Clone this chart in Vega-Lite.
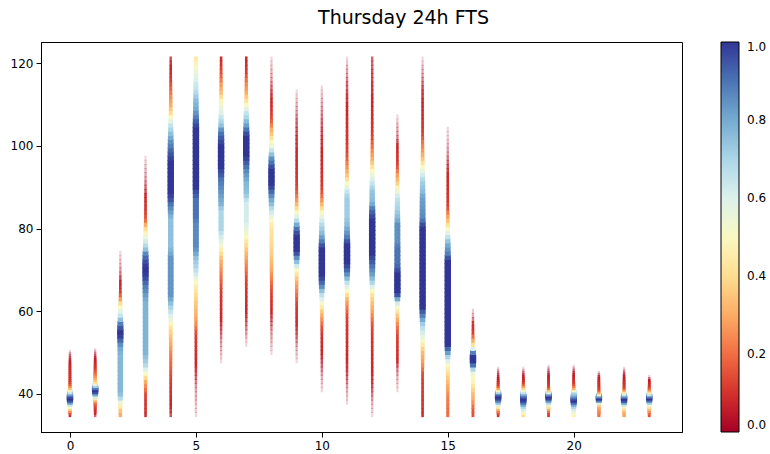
{
"$schema": "https://vega.github.io/schema/vega-lite/v6.json",
"width": 641,
"height": 390,
"autosize": {"type": "none"},
"padding": {"left": 41, "top": 42, "right": 88, "bottom": 22},
"background": "white",
"title": {"text": "Thursday 24h FTS", "font": "DejaVu Sans", "fontSize": 19, "fontWeight": "normal", "color": "black", "anchor": "middle", "frame": "group", "dx": 42, "offset": 14},
"config": {
 "view": {"stroke": "black", "strokeWidth": 1},
 "axis": {"domainColor": "black", "tickColor": "black", "labelColor": "black", "labelFont": "DejaVu Sans", "labelFontSize": 12, "tickSize": 5, "labelPadding": 3, "grid": false, "title": null},
 "legend": {"labelFont": "DejaVu Sans", "labelFontSize": 12, "labelColor": "black"}
},
"data": {"values": [
{"h":0,"y":35,"m":0.08},{"h":0,"y":35.5,"m":0.15},{"h":0,"y":36,"m":0.25},{"h":0,"y":36.5,"m":0.38},{"h":0,"y":37,"m":0.5},{"h":0,"y":37.5,"m":0.65},{"h":0,"y":38,"m":0.82},{"h":0,"y":38.5,"m":0.95},{"h":0,"y":39,"m":1},{"h":0,"y":39.5,"m":0.95},{"h":0,"y":40,"m":0.82},{"h":0,"y":40.5,"m":0.65},{"h":0,"y":41,"m":0.48},{"h":0,"y":41.5,"m":0.35},{"h":0,"y":42,"m":0.25},{"h":0,"y":42.5,"m":0.17},{"h":0,"y":43,"m":0.13},{"h":0,"y":43.5,"m":0.11},{"h":0,"y":44,"m":0.1},{"h":0,"y":44.5,"m":0.1},{"h":0,"y":45,"m":0.1},{"h":0,"y":45.5,"m":0.09},{"h":0,"y":46,"m":0.09},{"h":0,"y":46.5,"m":0.08},{"h":0,"y":47,"m":0.08},{"h":0,"y":47.5,"m":0.07},{"h":0,"y":48,"m":0.06},{"h":0,"y":48.5,"m":0.04},{"h":0,"y":49,"m":0.03},{"h":0,"y":49.5,"m":0.02},{"h":0,"y":50,"m":0.01},
{"h":1,"y":35,"m":0.05},{"h":1,"y":35.5,"m":0.07},{"h":1,"y":36,"m":0.09},{"h":1,"y":36.5,"m":0.1},{"h":1,"y":37,"m":0.12},{"h":1,"y":37.5,"m":0.15},{"h":1,"y":38,"m":0.2},{"h":1,"y":38.5,"m":0.3},{"h":1,"y":39,"m":0.45},{"h":1,"y":39.5,"m":0.62},{"h":1,"y":40,"m":0.8},{"h":1,"y":40.5,"m":0.95},{"h":1,"y":41,"m":1},{"h":1,"y":41.5,"m":0.9},{"h":1,"y":42,"m":0.72},{"h":1,"y":42.5,"m":0.55},{"h":1,"y":43,"m":0.42},{"h":1,"y":43.5,"m":0.35},{"h":1,"y":44,"m":0.3},{"h":1,"y":44.5,"m":0.26},{"h":1,"y":45,"m":0.22},{"h":1,"y":45.5,"m":0.18},{"h":1,"y":46,"m":0.15},{"h":1,"y":46.5,"m":0.12},{"h":1,"y":47,"m":0.1},{"h":1,"y":47.5,"m":0.09},{"h":1,"y":48,"m":0.08},{"h":1,"y":48.5,"m":0.06},{"h":1,"y":49,"m":0.04},{"h":1,"y":49.5,"m":0.025},{"h":1,"y":50,"m":0.015},{"h":1,"y":50.5,"m":0.005},
{"h":2,"y":35,"m":0.3},{"h":2,"y":36,"m":0.35},{"h":2,"y":37,"m":0.45},{"h":2,"y":38,"m":0.55},{"h":2,"y":39,"m":0.68},{"h":2,"y":40,"m":0.75},{"h":2,"y":41,"m":0.77},{"h":2,"y":42,"m":0.77},{"h":2,"y":43,"m":0.77},{"h":2,"y":44,"m":0.77},{"h":2,"y":45,"m":0.77},{"h":2,"y":46,"m":0.77},{"h":2,"y":47,"m":0.77},{"h":2,"y":48,"m":0.77},{"h":2,"y":49,"m":0.77},{"h":2,"y":50,"m":0.78},{"h":2,"y":51,"m":0.8},{"h":2,"y":52,"m":0.85},{"h":2,"y":53,"m":0.92},{"h":2,"y":54,"m":0.98},{"h":2,"y":55,"m":1},{"h":2,"y":56,"m":0.95},{"h":2,"y":57,"m":0.88},{"h":2,"y":58,"m":0.75},{"h":2,"y":59,"m":0.65},{"h":2,"y":60,"m":0.58},{"h":2,"y":61,"m":0.5},{"h":2,"y":62,"m":0.4},{"h":2,"y":63,"m":0.28},{"h":2,"y":64,"m":0.18},{"h":2,"y":65,"m":0.12},{"h":2,"y":66,"m":0.1},{"h":2,"y":67,"m":0.08},{"h":2,"y":68,"m":0.06},{"h":2,"y":69,"m":0.04},{"h":2,"y":70,"m":0.03},{"h":2,"y":71,"m":0.02},{"h":2,"y":72,"m":0.015},{"h":2,"y":73,"m":0.01},{"h":2,"y":74,"m":0.005},
{"h":3,"y":35,"m":0.08},{"h":3,"y":36,"m":0.1},{"h":3,"y":37,"m":0.1},{"h":3,"y":38,"m":0.1},{"h":3,"y":39,"m":0.12},{"h":3,"y":40,"m":0.13},{"h":3,"y":41,"m":0.2},{"h":3,"y":42,"m":0.25},{"h":3,"y":43,"m":0.3},{"h":3,"y":44,"m":0.4},{"h":3,"y":45,"m":0.5},{"h":3,"y":46,"m":0.6},{"h":3,"y":47,"m":0.68},{"h":3,"y":48,"m":0.72},{"h":3,"y":49,"m":0.75},{"h":3,"y":50,"m":0.78},{"h":3,"y":51,"m":0.78},{"h":3,"y":52,"m":0.78},{"h":3,"y":53,"m":0.78},{"h":3,"y":54,"m":0.78},{"h":3,"y":55,"m":0.78},{"h":3,"y":56,"m":0.78},{"h":3,"y":57,"m":0.78},{"h":3,"y":58,"m":0.78},{"h":3,"y":59,"m":0.78},{"h":3,"y":60,"m":0.78},{"h":3,"y":61,"m":0.78},{"h":3,"y":62,"m":0.78},{"h":3,"y":63,"m":0.8},{"h":3,"y":64,"m":0.83},{"h":3,"y":65,"m":0.86},{"h":3,"y":66,"m":0.88},{"h":3,"y":67,"m":0.92},{"h":3,"y":68,"m":0.96},{"h":3,"y":69,"m":0.99},{"h":3,"y":70,"m":1},{"h":3,"y":71,"m":0.99},{"h":3,"y":72,"m":0.96},{"h":3,"y":73,"m":0.92},{"h":3,"y":74,"m":0.86},{"h":3,"y":75,"m":0.75},{"h":3,"y":76,"m":0.68},{"h":3,"y":77,"m":0.62},{"h":3,"y":78,"m":0.55},{"h":3,"y":79,"m":0.48},{"h":3,"y":80,"m":0.4},{"h":3,"y":81,"m":0.3},{"h":3,"y":82,"m":0.2},{"h":3,"y":83,"m":0.15},{"h":3,"y":84,"m":0.12},{"h":3,"y":85,"m":0.1},{"h":3,"y":86,"m":0.1},{"h":3,"y":87,"m":0.09},{"h":3,"y":88,"m":0.08},{"h":3,"y":89,"m":0.06},{"h":3,"y":90,"m":0.05},{"h":3,"y":91,"m":0.04},{"h":3,"y":92,"m":0.03},{"h":3,"y":93,"m":0.025},{"h":3,"y":94,"m":0.02},{"h":3,"y":95,"m":0.015},{"h":3,"y":96,"m":0.01},{"h":3,"y":97,"m":0.005},
{"h":4,"y":35,"m":0.06},{"h":4,"y":36,"m":0.07},{"h":4,"y":37,"m":0.08},{"h":4,"y":38,"m":0.08},{"h":4,"y":39,"m":0.09},{"h":4,"y":40,"m":0.1},{"h":4,"y":41,"m":0.1},{"h":4,"y":42,"m":0.11},{"h":4,"y":43,"m":0.12},{"h":4,"y":44,"m":0.13},{"h":4,"y":45,"m":0.15},{"h":4,"y":46,"m":0.17},{"h":4,"y":47,"m":0.19},{"h":4,"y":48,"m":0.2},{"h":4,"y":49,"m":0.22},{"h":4,"y":50,"m":0.24},{"h":4,"y":51,"m":0.27},{"h":4,"y":52,"m":0.3},{"h":4,"y":53,"m":0.32},{"h":4,"y":54,"m":0.35},{"h":4,"y":55,"m":0.38},{"h":4,"y":56,"m":0.42},{"h":4,"y":57,"m":0.48},{"h":4,"y":58,"m":0.55},{"h":4,"y":59,"m":0.6},{"h":4,"y":60,"m":0.65},{"h":4,"y":61,"m":0.7},{"h":4,"y":62,"m":0.75},{"h":4,"y":63,"m":0.8},{"h":4,"y":64,"m":0.84},{"h":4,"y":65,"m":0.84},{"h":4,"y":66,"m":0.84},{"h":4,"y":67,"m":0.84},{"h":4,"y":68,"m":0.84},{"h":4,"y":69,"m":0.84},{"h":4,"y":70,"m":0.84},{"h":4,"y":71,"m":0.84},{"h":4,"y":72,"m":0.84},{"h":4,"y":73,"m":0.84},{"h":4,"y":74,"m":0.8},{"h":4,"y":75,"m":0.77},{"h":4,"y":76,"m":0.75},{"h":4,"y":77,"m":0.75},{"h":4,"y":78,"m":0.75},{"h":4,"y":79,"m":0.75},{"h":4,"y":80,"m":0.75},{"h":4,"y":81,"m":0.75},{"h":4,"y":82,"m":0.75},{"h":4,"y":83,"m":0.78},{"h":4,"y":84,"m":0.82},{"h":4,"y":85,"m":0.86},{"h":4,"y":86,"m":0.9},{"h":4,"y":87,"m":0.95},{"h":4,"y":88,"m":0.98},{"h":4,"y":89,"m":1},{"h":4,"y":90,"m":1},{"h":4,"y":91,"m":1},{"h":4,"y":92,"m":1},{"h":4,"y":93,"m":1},{"h":4,"y":94,"m":1},{"h":4,"y":95,"m":1},{"h":4,"y":96,"m":1},{"h":4,"y":97,"m":0.98},{"h":4,"y":98,"m":0.95},{"h":4,"y":99,"m":0.92},{"h":4,"y":100,"m":0.88},{"h":4,"y":101,"m":0.85},{"h":4,"y":102,"m":0.8},{"h":4,"y":103,"m":0.75},{"h":4,"y":104,"m":0.7},{"h":4,"y":105,"m":0.65},{"h":4,"y":106,"m":0.58},{"h":4,"y":107,"m":0.5},{"h":4,"y":108,"m":0.4},{"h":4,"y":109,"m":0.35},{"h":4,"y":110,"m":0.3},{"h":4,"y":111,"m":0.28},{"h":4,"y":112,"m":0.25},{"h":4,"y":113,"m":0.22},{"h":4,"y":114,"m":0.18},{"h":4,"y":115,"m":0.15},{"h":4,"y":116,"m":0.12},{"h":4,"y":117,"m":0.1},{"h":4,"y":118,"m":0.09},{"h":4,"y":119,"m":0.08},{"h":4,"y":120,"m":0.07},{"h":4,"y":121,"m":0.06},
{"h":5,"y":35,"m":0.005},{"h":5,"y":36,"m":0.01},{"h":5,"y":37,"m":0.01},{"h":5,"y":38,"m":0.015},{"h":5,"y":39,"m":0.02},{"h":5,"y":40,"m":0.02},{"h":5,"y":41,"m":0.025},{"h":5,"y":42,"m":0.03},{"h":5,"y":43,"m":0.04},{"h":5,"y":44,"m":0.05},{"h":5,"y":45,"m":0.06},{"h":5,"y":46,"m":0.07},{"h":5,"y":47,"m":0.08},{"h":5,"y":48,"m":0.08},{"h":5,"y":49,"m":0.09},{"h":5,"y":50,"m":0.09},{"h":5,"y":51,"m":0.1},{"h":5,"y":52,"m":0.1},{"h":5,"y":53,"m":0.11},{"h":5,"y":54,"m":0.12},{"h":5,"y":55,"m":0.15},{"h":5,"y":56,"m":0.2},{"h":5,"y":57,"m":0.25},{"h":5,"y":58,"m":0.28},{"h":5,"y":59,"m":0.3},{"h":5,"y":60,"m":0.32},{"h":5,"y":61,"m":0.34},{"h":5,"y":62,"m":0.36},{"h":5,"y":63,"m":0.38},{"h":5,"y":64,"m":0.4},{"h":5,"y":65,"m":0.43},{"h":5,"y":66,"m":0.46},{"h":5,"y":67,"m":0.5},{"h":5,"y":68,"m":0.56},{"h":5,"y":69,"m":0.62},{"h":5,"y":70,"m":0.66},{"h":5,"y":71,"m":0.7},{"h":5,"y":72,"m":0.72},{"h":5,"y":73,"m":0.75},{"h":5,"y":74,"m":0.8},{"h":5,"y":75,"m":0.84},{"h":5,"y":76,"m":0.86},{"h":5,"y":77,"m":0.86},{"h":5,"y":78,"m":0.86},{"h":5,"y":79,"m":0.86},{"h":5,"y":80,"m":0.86},{"h":5,"y":81,"m":0.86},{"h":5,"y":82,"m":0.88},{"h":5,"y":83,"m":0.9},{"h":5,"y":84,"m":0.9},{"h":5,"y":85,"m":0.9},{"h":5,"y":86,"m":0.9},{"h":5,"y":87,"m":0.9},{"h":5,"y":88,"m":0.93},{"h":5,"y":89,"m":0.96},{"h":5,"y":90,"m":1},{"h":5,"y":91,"m":1},{"h":5,"y":92,"m":1},{"h":5,"y":93,"m":1},{"h":5,"y":94,"m":1},{"h":5,"y":95,"m":1},{"h":5,"y":96,"m":1},{"h":5,"y":97,"m":1},{"h":5,"y":98,"m":1},{"h":5,"y":99,"m":1},{"h":5,"y":100,"m":1},{"h":5,"y":101,"m":1},{"h":5,"y":102,"m":1},{"h":5,"y":103,"m":1},{"h":5,"y":104,"m":1},{"h":5,"y":105,"m":0.97},{"h":5,"y":106,"m":0.93},{"h":5,"y":107,"m":0.88},{"h":5,"y":108,"m":0.84},{"h":5,"y":109,"m":0.8},{"h":5,"y":110,"m":0.78},{"h":5,"y":111,"m":0.76},{"h":5,"y":112,"m":0.72},{"h":5,"y":113,"m":0.68},{"h":5,"y":114,"m":0.65},{"h":5,"y":115,"m":0.63},{"h":5,"y":116,"m":0.6},{"h":5,"y":117,"m":0.58},{"h":5,"y":118,"m":0.55},{"h":5,"y":119,"m":0.52},{"h":5,"y":120,"m":0.48},{"h":5,"y":121,"m":0.45},
{"h":6,"y":48,"m":0.005},{"h":6,"y":49,"m":0.01},{"h":6,"y":50,"m":0.015},{"h":6,"y":51,"m":0.02},{"h":6,"y":52,"m":0.025},{"h":6,"y":53,"m":0.03},{"h":6,"y":54,"m":0.04},{"h":6,"y":55,"m":0.05},{"h":6,"y":56,"m":0.06},{"h":6,"y":57,"m":0.07},{"h":6,"y":58,"m":0.08},{"h":6,"y":59,"m":0.08},{"h":6,"y":60,"m":0.09},{"h":6,"y":61,"m":0.09},{"h":6,"y":62,"m":0.1},{"h":6,"y":63,"m":0.1},{"h":6,"y":64,"m":0.11},{"h":6,"y":65,"m":0.12},{"h":6,"y":66,"m":0.14},{"h":6,"y":67,"m":0.17},{"h":6,"y":68,"m":0.19},{"h":6,"y":69,"m":0.22},{"h":6,"y":70,"m":0.25},{"h":6,"y":71,"m":0.28},{"h":6,"y":72,"m":0.3},{"h":6,"y":73,"m":0.35},{"h":6,"y":74,"m":0.4},{"h":6,"y":75,"m":0.47},{"h":6,"y":76,"m":0.53},{"h":6,"y":77,"m":0.58},{"h":6,"y":78,"m":0.62},{"h":6,"y":79,"m":0.66},{"h":6,"y":80,"m":0.7},{"h":6,"y":81,"m":0.7},{"h":6,"y":82,"m":0.7},{"h":6,"y":83,"m":0.7},{"h":6,"y":84,"m":0.7},{"h":6,"y":85,"m":0.73},{"h":6,"y":86,"m":0.78},{"h":6,"y":87,"m":0.8},{"h":6,"y":88,"m":0.82},{"h":6,"y":89,"m":0.84},{"h":6,"y":90,"m":0.86},{"h":6,"y":91,"m":0.88},{"h":6,"y":92,"m":0.9},{"h":6,"y":93,"m":0.94},{"h":6,"y":94,"m":0.97},{"h":6,"y":95,"m":1},{"h":6,"y":96,"m":1},{"h":6,"y":97,"m":1},{"h":6,"y":98,"m":1},{"h":6,"y":99,"m":1},{"h":6,"y":100,"m":1},{"h":6,"y":101,"m":0.97},{"h":6,"y":102,"m":0.94},{"h":6,"y":103,"m":0.9},{"h":6,"y":104,"m":0.84},{"h":6,"y":105,"m":0.75},{"h":6,"y":106,"m":0.7},{"h":6,"y":107,"m":0.65},{"h":6,"y":108,"m":0.6},{"h":6,"y":109,"m":0.57},{"h":6,"y":110,"m":0.52},{"h":6,"y":111,"m":0.48},{"h":6,"y":112,"m":0.4},{"h":6,"y":113,"m":0.34},{"h":6,"y":114,"m":0.3},{"h":6,"y":115,"m":0.27},{"h":6,"y":116,"m":0.22},{"h":6,"y":117,"m":0.18},{"h":6,"y":118,"m":0.15},{"h":6,"y":119,"m":0.12},{"h":6,"y":120,"m":0.1},{"h":6,"y":121,"m":0.09},
{"h":7,"y":52,"m":0.005},{"h":7,"y":53,"m":0.01},{"h":7,"y":54,"m":0.02},{"h":7,"y":55,"m":0.03},{"h":7,"y":56,"m":0.04},{"h":7,"y":57,"m":0.05},{"h":7,"y":58,"m":0.06},{"h":7,"y":59,"m":0.07},{"h":7,"y":60,"m":0.08},{"h":7,"y":61,"m":0.08},{"h":7,"y":62,"m":0.09},{"h":7,"y":63,"m":0.09},{"h":7,"y":64,"m":0.1},{"h":7,"y":65,"m":0.1},{"h":7,"y":66,"m":0.11},{"h":7,"y":67,"m":0.12},{"h":7,"y":68,"m":0.14},{"h":7,"y":69,"m":0.17},{"h":7,"y":70,"m":0.2},{"h":7,"y":71,"m":0.23},{"h":7,"y":72,"m":0.26},{"h":7,"y":73,"m":0.29},{"h":7,"y":74,"m":0.32},{"h":7,"y":75,"m":0.36},{"h":7,"y":76,"m":0.4},{"h":7,"y":77,"m":0.44},{"h":7,"y":78,"m":0.5},{"h":7,"y":79,"m":0.54},{"h":7,"y":80,"m":0.57},{"h":7,"y":81,"m":0.6},{"h":7,"y":82,"m":0.62},{"h":7,"y":83,"m":0.62},{"h":7,"y":84,"m":0.62},{"h":7,"y":85,"m":0.62},{"h":7,"y":86,"m":0.62},{"h":7,"y":87,"m":0.66},{"h":7,"y":88,"m":0.72},{"h":7,"y":89,"m":0.75},{"h":7,"y":90,"m":0.76},{"h":7,"y":91,"m":0.77},{"h":7,"y":92,"m":0.8},{"h":7,"y":93,"m":0.83},{"h":7,"y":94,"m":0.86},{"h":7,"y":95,"m":0.9},{"h":7,"y":96,"m":0.94},{"h":7,"y":97,"m":0.98},{"h":7,"y":98,"m":1},{"h":7,"y":99,"m":1},{"h":7,"y":100,"m":1},{"h":7,"y":101,"m":1},{"h":7,"y":102,"m":1},{"h":7,"y":103,"m":0.96},{"h":7,"y":104,"m":0.9},{"h":7,"y":105,"m":0.82},{"h":7,"y":106,"m":0.76},{"h":7,"y":107,"m":0.7},{"h":7,"y":108,"m":0.65},{"h":7,"y":109,"m":0.58},{"h":7,"y":110,"m":0.5},{"h":7,"y":111,"m":0.42},{"h":7,"y":112,"m":0.36},{"h":7,"y":113,"m":0.3},{"h":7,"y":114,"m":0.27},{"h":7,"y":115,"m":0.24},{"h":7,"y":116,"m":0.2},{"h":7,"y":117,"m":0.16},{"h":7,"y":118,"m":0.12},{"h":7,"y":119,"m":0.1},{"h":7,"y":120,"m":0.09},{"h":7,"y":121,"m":0.08},
{"h":8,"y":50,"m":0.005},{"h":8,"y":51,"m":0.01},{"h":8,"y":52,"m":0.015},{"h":8,"y":53,"m":0.02},{"h":8,"y":54,"m":0.025},{"h":8,"y":55,"m":0.03},{"h":8,"y":56,"m":0.04},{"h":8,"y":57,"m":0.05},{"h":8,"y":58,"m":0.06},{"h":8,"y":59,"m":0.07},{"h":8,"y":60,"m":0.08},{"h":8,"y":61,"m":0.09},{"h":8,"y":62,"m":0.1},{"h":8,"y":63,"m":0.11},{"h":8,"y":64,"m":0.12},{"h":8,"y":65,"m":0.14},{"h":8,"y":66,"m":0.17},{"h":8,"y":67,"m":0.2},{"h":8,"y":68,"m":0.23},{"h":8,"y":69,"m":0.26},{"h":8,"y":70,"m":0.29},{"h":8,"y":71,"m":0.31},{"h":8,"y":72,"m":0.33},{"h":8,"y":73,"m":0.35},{"h":8,"y":74,"m":0.37},{"h":8,"y":75,"m":0.38},{"h":8,"y":76,"m":0.39},{"h":8,"y":77,"m":0.4},{"h":8,"y":78,"m":0.41},{"h":8,"y":79,"m":0.42},{"h":8,"y":80,"m":0.43},{"h":8,"y":81,"m":0.46},{"h":8,"y":82,"m":0.5},{"h":8,"y":83,"m":0.56},{"h":8,"y":84,"m":0.62},{"h":8,"y":85,"m":0.68},{"h":8,"y":86,"m":0.75},{"h":8,"y":87,"m":0.8},{"h":8,"y":88,"m":0.86},{"h":8,"y":89,"m":0.92},{"h":8,"y":90,"m":0.97},{"h":8,"y":91,"m":1},{"h":8,"y":92,"m":1},{"h":8,"y":93,"m":1},{"h":8,"y":94,"m":1},{"h":8,"y":95,"m":0.96},{"h":8,"y":96,"m":0.9},{"h":8,"y":97,"m":0.85},{"h":8,"y":98,"m":0.75},{"h":8,"y":99,"m":0.65},{"h":8,"y":100,"m":0.55},{"h":8,"y":101,"m":0.5},{"h":8,"y":102,"m":0.42},{"h":8,"y":103,"m":0.35},{"h":8,"y":104,"m":0.3},{"h":8,"y":105,"m":0.24},{"h":8,"y":106,"m":0.18},{"h":8,"y":107,"m":0.14},{"h":8,"y":108,"m":0.12},{"h":8,"y":109,"m":0.1},{"h":8,"y":110,"m":0.09},{"h":8,"y":111,"m":0.08},{"h":8,"y":112,"m":0.07},{"h":8,"y":113,"m":0.06},{"h":8,"y":114,"m":0.05},{"h":8,"y":115,"m":0.04},{"h":8,"y":116,"m":0.03},{"h":8,"y":117,"m":0.025},{"h":8,"y":118,"m":0.02},{"h":8,"y":119,"m":0.015},{"h":8,"y":120,"m":0.01},{"h":8,"y":121,"m":0.005},
{"h":9,"y":48,"m":0.005},{"h":9,"y":49,"m":0.01},{"h":9,"y":50,"m":0.015},{"h":9,"y":51,"m":0.02},{"h":9,"y":52,"m":0.03},{"h":9,"y":53,"m":0.04},{"h":9,"y":54,"m":0.05},{"h":9,"y":55,"m":0.06},{"h":9,"y":56,"m":0.07},{"h":9,"y":57,"m":0.08},{"h":9,"y":58,"m":0.09},{"h":9,"y":59,"m":0.1},{"h":9,"y":60,"m":0.1},{"h":9,"y":61,"m":0.11},{"h":9,"y":62,"m":0.13},{"h":9,"y":63,"m":0.16},{"h":9,"y":64,"m":0.2},{"h":9,"y":65,"m":0.23},{"h":9,"y":66,"m":0.27},{"h":9,"y":67,"m":0.3},{"h":9,"y":68,"m":0.36},{"h":9,"y":69,"m":0.43},{"h":9,"y":70,"m":0.5},{"h":9,"y":71,"m":0.62},{"h":9,"y":72,"m":0.75},{"h":9,"y":73,"m":0.85},{"h":9,"y":74,"m":0.95},{"h":9,"y":75,"m":1},{"h":9,"y":76,"m":1},{"h":9,"y":77,"m":1},{"h":9,"y":78,"m":1},{"h":9,"y":79,"m":0.96},{"h":9,"y":80,"m":0.9},{"h":9,"y":81,"m":0.8},{"h":9,"y":82,"m":0.68},{"h":9,"y":83,"m":0.58},{"h":9,"y":84,"m":0.5},{"h":9,"y":85,"m":0.4},{"h":9,"y":86,"m":0.32},{"h":9,"y":87,"m":0.27},{"h":9,"y":88,"m":0.22},{"h":9,"y":89,"m":0.17},{"h":9,"y":90,"m":0.14},{"h":9,"y":91,"m":0.12},{"h":9,"y":92,"m":0.11},{"h":9,"y":93,"m":0.1},{"h":9,"y":94,"m":0.1},{"h":9,"y":95,"m":0.09},{"h":9,"y":96,"m":0.09},{"h":9,"y":97,"m":0.08},{"h":9,"y":98,"m":0.08},{"h":9,"y":99,"m":0.08},{"h":9,"y":100,"m":0.07},{"h":9,"y":101,"m":0.07},{"h":9,"y":102,"m":0.07},{"h":9,"y":103,"m":0.06},{"h":9,"y":104,"m":0.06},{"h":9,"y":105,"m":0.05},{"h":9,"y":106,"m":0.05},{"h":9,"y":107,"m":0.04},{"h":9,"y":108,"m":0.03},{"h":9,"y":109,"m":0.025},{"h":9,"y":110,"m":0.02},{"h":9,"y":111,"m":0.015},{"h":9,"y":112,"m":0.01},{"h":9,"y":113,"m":0.005},
{"h":10,"y":41,"m":0.005},{"h":10,"y":42,"m":0.01},{"h":10,"y":43,"m":0.015},{"h":10,"y":44,"m":0.02},{"h":10,"y":45,"m":0.03},{"h":10,"y":46,"m":0.04},{"h":10,"y":47,"m":0.05},{"h":10,"y":48,"m":0.06},{"h":10,"y":49,"m":0.07},{"h":10,"y":50,"m":0.08},{"h":10,"y":51,"m":0.08},{"h":10,"y":52,"m":0.09},{"h":10,"y":53,"m":0.09},{"h":10,"y":54,"m":0.1},{"h":10,"y":55,"m":0.12},{"h":10,"y":56,"m":0.15},{"h":10,"y":57,"m":0.2},{"h":10,"y":58,"m":0.25},{"h":10,"y":59,"m":0.3},{"h":10,"y":60,"m":0.36},{"h":10,"y":61,"m":0.44},{"h":10,"y":62,"m":0.52},{"h":10,"y":63,"m":0.6},{"h":10,"y":64,"m":0.66},{"h":10,"y":65,"m":0.75},{"h":10,"y":66,"m":0.85},{"h":10,"y":67,"m":0.92},{"h":10,"y":68,"m":0.97},{"h":10,"y":69,"m":1},{"h":10,"y":70,"m":1},{"h":10,"y":71,"m":1},{"h":10,"y":72,"m":1},{"h":10,"y":73,"m":1},{"h":10,"y":74,"m":1},{"h":10,"y":75,"m":1},{"h":10,"y":76,"m":0.95},{"h":10,"y":77,"m":0.88},{"h":10,"y":78,"m":0.82},{"h":10,"y":79,"m":0.76},{"h":10,"y":80,"m":0.72},{"h":10,"y":81,"m":0.68},{"h":10,"y":82,"m":0.62},{"h":10,"y":83,"m":0.56},{"h":10,"y":84,"m":0.5},{"h":10,"y":85,"m":0.4},{"h":10,"y":86,"m":0.32},{"h":10,"y":87,"m":0.26},{"h":10,"y":88,"m":0.2},{"h":10,"y":89,"m":0.15},{"h":10,"y":90,"m":0.12},{"h":10,"y":91,"m":0.11},{"h":10,"y":92,"m":0.1},{"h":10,"y":93,"m":0.1},{"h":10,"y":94,"m":0.09},{"h":10,"y":95,"m":0.09},{"h":10,"y":96,"m":0.09},{"h":10,"y":97,"m":0.08},{"h":10,"y":98,"m":0.08},{"h":10,"y":99,"m":0.08},{"h":10,"y":100,"m":0.07},{"h":10,"y":101,"m":0.07},{"h":10,"y":102,"m":0.07},{"h":10,"y":103,"m":0.06},{"h":10,"y":104,"m":0.06},{"h":10,"y":105,"m":0.05},{"h":10,"y":106,"m":0.05},{"h":10,"y":107,"m":0.04},{"h":10,"y":108,"m":0.035},{"h":10,"y":109,"m":0.03},{"h":10,"y":110,"m":0.025},{"h":10,"y":111,"m":0.02},{"h":10,"y":112,"m":0.015},{"h":10,"y":113,"m":0.01},{"h":10,"y":114,"m":0.005},
{"h":11,"y":38,"m":0.005},{"h":11,"y":39,"m":0.01},{"h":11,"y":40,"m":0.015},{"h":11,"y":41,"m":0.02},{"h":11,"y":42,"m":0.03},{"h":11,"y":43,"m":0.04},{"h":11,"y":44,"m":0.05},{"h":11,"y":45,"m":0.06},{"h":11,"y":46,"m":0.07},{"h":11,"y":47,"m":0.07},{"h":11,"y":48,"m":0.08},{"h":11,"y":49,"m":0.08},{"h":11,"y":50,"m":0.08},{"h":11,"y":51,"m":0.09},{"h":11,"y":52,"m":0.09},{"h":11,"y":53,"m":0.09},{"h":11,"y":54,"m":0.1},{"h":11,"y":55,"m":0.1},{"h":11,"y":56,"m":0.1},{"h":11,"y":57,"m":0.11},{"h":11,"y":58,"m":0.12},{"h":11,"y":59,"m":0.14},{"h":11,"y":60,"m":0.18},{"h":11,"y":61,"m":0.22},{"h":11,"y":62,"m":0.27},{"h":11,"y":63,"m":0.32},{"h":11,"y":64,"m":0.4},{"h":11,"y":65,"m":0.5},{"h":11,"y":66,"m":0.58},{"h":11,"y":67,"m":0.66},{"h":11,"y":68,"m":0.76},{"h":11,"y":69,"m":0.85},{"h":11,"y":70,"m":0.92},{"h":11,"y":71,"m":0.97},{"h":11,"y":72,"m":1},{"h":11,"y":73,"m":1},{"h":11,"y":74,"m":1},{"h":11,"y":75,"m":1},{"h":11,"y":76,"m":1},{"h":11,"y":77,"m":0.95},{"h":11,"y":78,"m":0.88},{"h":11,"y":79,"m":0.84},{"h":11,"y":80,"m":0.8},{"h":11,"y":81,"m":0.76},{"h":11,"y":82,"m":0.74},{"h":11,"y":83,"m":0.72},{"h":11,"y":84,"m":0.72},{"h":11,"y":85,"m":0.72},{"h":11,"y":86,"m":0.72},{"h":11,"y":87,"m":0.72},{"h":11,"y":88,"m":0.7},{"h":11,"y":89,"m":0.65},{"h":11,"y":90,"m":0.58},{"h":11,"y":91,"m":0.5},{"h":11,"y":92,"m":0.42},{"h":11,"y":93,"m":0.35},{"h":11,"y":94,"m":0.3},{"h":11,"y":95,"m":0.26},{"h":11,"y":96,"m":0.22},{"h":11,"y":97,"m":0.18},{"h":11,"y":98,"m":0.15},{"h":11,"y":99,"m":0.13},{"h":11,"y":100,"m":0.12},{"h":11,"y":101,"m":0.11},{"h":11,"y":102,"m":0.1},{"h":11,"y":103,"m":0.1},{"h":11,"y":104,"m":0.1},{"h":11,"y":105,"m":0.09},{"h":11,"y":106,"m":0.09},{"h":11,"y":107,"m":0.09},{"h":11,"y":108,"m":0.08},{"h":11,"y":109,"m":0.08},{"h":11,"y":110,"m":0.08},{"h":11,"y":111,"m":0.07},{"h":11,"y":112,"m":0.07},{"h":11,"y":113,"m":0.06},{"h":11,"y":114,"m":0.05},{"h":11,"y":115,"m":0.05},{"h":11,"y":116,"m":0.04},{"h":11,"y":117,"m":0.03},{"h":11,"y":118,"m":0.025},{"h":11,"y":119,"m":0.02},{"h":11,"y":120,"m":0.01},{"h":11,"y":121,"m":0.005},
{"h":12,"y":35,"m":0.005},{"h":12,"y":36,"m":0.01},{"h":12,"y":37,"m":0.015},{"h":12,"y":38,"m":0.02},{"h":12,"y":39,"m":0.03},{"h":12,"y":40,"m":0.04},{"h":12,"y":41,"m":0.05},{"h":12,"y":42,"m":0.06},{"h":12,"y":43,"m":0.07},{"h":12,"y":44,"m":0.07},{"h":12,"y":45,"m":0.08},{"h":12,"y":46,"m":0.08},{"h":12,"y":47,"m":0.08},{"h":12,"y":48,"m":0.09},{"h":12,"y":49,"m":0.09},{"h":12,"y":50,"m":0.09},{"h":12,"y":51,"m":0.1},{"h":12,"y":52,"m":0.1},{"h":12,"y":53,"m":0.1},{"h":12,"y":54,"m":0.11},{"h":12,"y":55,"m":0.12},{"h":12,"y":56,"m":0.14},{"h":12,"y":57,"m":0.16},{"h":12,"y":58,"m":0.2},{"h":12,"y":59,"m":0.24},{"h":12,"y":60,"m":0.28},{"h":12,"y":61,"m":0.31},{"h":12,"y":62,"m":0.34},{"h":12,"y":63,"m":0.38},{"h":12,"y":64,"m":0.42},{"h":12,"y":65,"m":0.5},{"h":12,"y":66,"m":0.6},{"h":12,"y":67,"m":0.7},{"h":12,"y":68,"m":0.76},{"h":12,"y":69,"m":0.82},{"h":12,"y":70,"m":0.86},{"h":12,"y":71,"m":0.9},{"h":12,"y":72,"m":0.94},{"h":12,"y":73,"m":0.97},{"h":12,"y":74,"m":1},{"h":12,"y":75,"m":1},{"h":12,"y":76,"m":1},{"h":12,"y":77,"m":1},{"h":12,"y":78,"m":1},{"h":12,"y":79,"m":1},{"h":12,"y":80,"m":1},{"h":12,"y":81,"m":1},{"h":12,"y":82,"m":1},{"h":12,"y":83,"m":0.97},{"h":12,"y":84,"m":0.93},{"h":12,"y":85,"m":0.88},{"h":12,"y":86,"m":0.8},{"h":12,"y":87,"m":0.76},{"h":12,"y":88,"m":0.75},{"h":12,"y":89,"m":0.74},{"h":12,"y":90,"m":0.7},{"h":12,"y":91,"m":0.65},{"h":12,"y":92,"m":0.6},{"h":12,"y":93,"m":0.55},{"h":12,"y":94,"m":0.5},{"h":12,"y":95,"m":0.42},{"h":12,"y":96,"m":0.36},{"h":12,"y":97,"m":0.3},{"h":12,"y":98,"m":0.27},{"h":12,"y":99,"m":0.24},{"h":12,"y":100,"m":0.2},{"h":12,"y":101,"m":0.17},{"h":12,"y":102,"m":0.14},{"h":12,"y":103,"m":0.12},{"h":12,"y":104,"m":0.11},{"h":12,"y":105,"m":0.1},{"h":12,"y":106,"m":0.1},{"h":12,"y":107,"m":0.09},{"h":12,"y":108,"m":0.09},{"h":12,"y":109,"m":0.09},{"h":12,"y":110,"m":0.08},{"h":12,"y":111,"m":0.08},{"h":12,"y":112,"m":0.08},{"h":12,"y":113,"m":0.07},{"h":12,"y":114,"m":0.07},{"h":12,"y":115,"m":0.07},{"h":12,"y":116,"m":0.06},{"h":12,"y":117,"m":0.06},{"h":12,"y":118,"m":0.06},{"h":12,"y":119,"m":0.05},{"h":12,"y":120,"m":0.05},{"h":12,"y":121,"m":0.05},
{"h":13,"y":41,"m":0.005},{"h":13,"y":42,"m":0.01},{"h":13,"y":43,"m":0.015},{"h":13,"y":44,"m":0.02},{"h":13,"y":45,"m":0.03},{"h":13,"y":46,"m":0.04},{"h":13,"y":47,"m":0.06},{"h":13,"y":48,"m":0.08},{"h":13,"y":49,"m":0.09},{"h":13,"y":50,"m":0.1},{"h":13,"y":51,"m":0.1},{"h":13,"y":52,"m":0.11},{"h":13,"y":53,"m":0.12},{"h":13,"y":54,"m":0.13},{"h":13,"y":55,"m":0.16},{"h":13,"y":56,"m":0.2},{"h":13,"y":57,"m":0.25},{"h":13,"y":58,"m":0.3},{"h":13,"y":59,"m":0.36},{"h":13,"y":60,"m":0.44},{"h":13,"y":61,"m":0.52},{"h":13,"y":62,"m":0.62},{"h":13,"y":63,"m":0.8},{"h":13,"y":64,"m":0.95},{"h":13,"y":65,"m":1},{"h":13,"y":66,"m":1},{"h":13,"y":67,"m":1},{"h":13,"y":68,"m":1},{"h":13,"y":69,"m":1},{"h":13,"y":70,"m":0.96},{"h":13,"y":71,"m":0.92},{"h":13,"y":72,"m":0.9},{"h":13,"y":73,"m":0.9},{"h":13,"y":74,"m":0.9},{"h":13,"y":75,"m":0.9},{"h":13,"y":76,"m":0.88},{"h":13,"y":77,"m":0.85},{"h":13,"y":78,"m":0.85},{"h":13,"y":79,"m":0.85},{"h":13,"y":80,"m":0.85},{"h":13,"y":81,"m":0.85},{"h":13,"y":82,"m":0.8},{"h":13,"y":83,"m":0.76},{"h":13,"y":84,"m":0.73},{"h":13,"y":85,"m":0.7},{"h":13,"y":86,"m":0.68},{"h":13,"y":87,"m":0.66},{"h":13,"y":88,"m":0.62},{"h":13,"y":89,"m":0.55},{"h":13,"y":90,"m":0.48},{"h":13,"y":91,"m":0.38},{"h":13,"y":92,"m":0.32},{"h":13,"y":93,"m":0.28},{"h":13,"y":94,"m":0.22},{"h":13,"y":95,"m":0.16},{"h":13,"y":96,"m":0.12},{"h":13,"y":97,"m":0.1},{"h":13,"y":98,"m":0.1},{"h":13,"y":99,"m":0.09},{"h":13,"y":100,"m":0.08},{"h":13,"y":101,"m":0.06},{"h":13,"y":102,"m":0.04},{"h":13,"y":103,"m":0.03},{"h":13,"y":104,"m":0.025},{"h":13,"y":105,"m":0.02},{"h":13,"y":106,"m":0.01},{"h":13,"y":107,"m":0.005},
{"h":14,"y":35,"m":0.08},{"h":14,"y":36,"m":0.09},{"h":14,"y":37,"m":0.1},{"h":14,"y":38,"m":0.1},{"h":14,"y":39,"m":0.1},{"h":14,"y":40,"m":0.11},{"h":14,"y":41,"m":0.11},{"h":14,"y":42,"m":0.12},{"h":14,"y":43,"m":0.12},{"h":14,"y":44,"m":0.13},{"h":14,"y":45,"m":0.15},{"h":14,"y":46,"m":0.2},{"h":14,"y":47,"m":0.25},{"h":14,"y":48,"m":0.28},{"h":14,"y":49,"m":0.3},{"h":14,"y":50,"m":0.33},{"h":14,"y":51,"m":0.38},{"h":14,"y":52,"m":0.45},{"h":14,"y":53,"m":0.52},{"h":14,"y":54,"m":0.58},{"h":14,"y":55,"m":0.62},{"h":14,"y":56,"m":0.66},{"h":14,"y":57,"m":0.72},{"h":14,"y":58,"m":0.8},{"h":14,"y":59,"m":0.88},{"h":14,"y":60,"m":0.94},{"h":14,"y":61,"m":1},{"h":14,"y":62,"m":1},{"h":14,"y":63,"m":1},{"h":14,"y":64,"m":1},{"h":14,"y":65,"m":1},{"h":14,"y":66,"m":1},{"h":14,"y":67,"m":1},{"h":14,"y":68,"m":1},{"h":14,"y":69,"m":1},{"h":14,"y":70,"m":1},{"h":14,"y":71,"m":1},{"h":14,"y":72,"m":1},{"h":14,"y":73,"m":1},{"h":14,"y":74,"m":1},{"h":14,"y":75,"m":1},{"h":14,"y":76,"m":1},{"h":14,"y":77,"m":1},{"h":14,"y":78,"m":1},{"h":14,"y":79,"m":1},{"h":14,"y":80,"m":1},{"h":14,"y":81,"m":0.96},{"h":14,"y":82,"m":0.9},{"h":14,"y":83,"m":0.86},{"h":14,"y":84,"m":0.85},{"h":14,"y":85,"m":0.84},{"h":14,"y":86,"m":0.83},{"h":14,"y":87,"m":0.82},{"h":14,"y":88,"m":0.8},{"h":14,"y":89,"m":0.76},{"h":14,"y":90,"m":0.74},{"h":14,"y":91,"m":0.72},{"h":14,"y":92,"m":0.68},{"h":14,"y":93,"m":0.62},{"h":14,"y":94,"m":0.56},{"h":14,"y":95,"m":0.5},{"h":14,"y":96,"m":0.42},{"h":14,"y":97,"m":0.35},{"h":14,"y":98,"m":0.3},{"h":14,"y":99,"m":0.27},{"h":14,"y":100,"m":0.24},{"h":14,"y":101,"m":0.21},{"h":14,"y":102,"m":0.17},{"h":14,"y":103,"m":0.13},{"h":14,"y":104,"m":0.11},{"h":14,"y":105,"m":0.1},{"h":14,"y":106,"m":0.1},{"h":14,"y":107,"m":0.09},{"h":14,"y":108,"m":0.09},{"h":14,"y":109,"m":0.09},{"h":14,"y":110,"m":0.08},{"h":14,"y":111,"m":0.08},{"h":14,"y":112,"m":0.07},{"h":14,"y":113,"m":0.07},{"h":14,"y":114,"m":0.06},{"h":14,"y":115,"m":0.05},{"h":14,"y":116,"m":0.04},{"h":14,"y":117,"m":0.03},{"h":14,"y":118,"m":0.025},{"h":14,"y":119,"m":0.02},{"h":14,"y":120,"m":0.01},{"h":14,"y":121,"m":0.005},
{"h":15,"y":35,"m":0.2},{"h":15,"y":36,"m":0.2},{"h":15,"y":37,"m":0.21},{"h":15,"y":38,"m":0.22},{"h":15,"y":39,"m":0.23},{"h":15,"y":40,"m":0.25},{"h":15,"y":41,"m":0.28},{"h":15,"y":42,"m":0.3},{"h":15,"y":43,"m":0.33},{"h":15,"y":44,"m":0.36},{"h":15,"y":45,"m":0.4},{"h":15,"y":46,"m":0.45},{"h":15,"y":47,"m":0.5},{"h":15,"y":48,"m":0.6},{"h":15,"y":49,"m":0.7},{"h":15,"y":50,"m":0.82},{"h":15,"y":51,"m":0.92},{"h":15,"y":52,"m":1},{"h":15,"y":53,"m":1},{"h":15,"y":54,"m":1},{"h":15,"y":55,"m":1},{"h":15,"y":56,"m":1},{"h":15,"y":57,"m":1},{"h":15,"y":58,"m":1},{"h":15,"y":59,"m":1},{"h":15,"y":60,"m":1},{"h":15,"y":61,"m":1},{"h":15,"y":62,"m":1},{"h":15,"y":63,"m":1},{"h":15,"y":64,"m":1},{"h":15,"y":65,"m":1},{"h":15,"y":66,"m":1},{"h":15,"y":67,"m":1},{"h":15,"y":68,"m":1},{"h":15,"y":69,"m":1},{"h":15,"y":70,"m":1},{"h":15,"y":71,"m":1},{"h":15,"y":72,"m":1},{"h":15,"y":73,"m":0.95},{"h":15,"y":74,"m":0.88},{"h":15,"y":75,"m":0.84},{"h":15,"y":76,"m":0.8},{"h":15,"y":77,"m":0.74},{"h":15,"y":78,"m":0.66},{"h":15,"y":79,"m":0.58},{"h":15,"y":80,"m":0.5},{"h":15,"y":81,"m":0.42},{"h":15,"y":82,"m":0.34},{"h":15,"y":83,"m":0.28},{"h":15,"y":84,"m":0.22},{"h":15,"y":85,"m":0.15},{"h":15,"y":86,"m":0.12},{"h":15,"y":87,"m":0.11},{"h":15,"y":88,"m":0.1},{"h":15,"y":89,"m":0.1},{"h":15,"y":90,"m":0.09},{"h":15,"y":91,"m":0.09},{"h":15,"y":92,"m":0.08},{"h":15,"y":93,"m":0.08},{"h":15,"y":94,"m":0.07},{"h":15,"y":95,"m":0.06},{"h":15,"y":96,"m":0.05},{"h":15,"y":97,"m":0.04},{"h":15,"y":98,"m":0.03},{"h":15,"y":99,"m":0.025},{"h":15,"y":100,"m":0.02},{"h":15,"y":101,"m":0.015},{"h":15,"y":102,"m":0.01},{"h":15,"y":103,"m":0.007},{"h":15,"y":104,"m":0.005},
{"h":16,"y":35,"m":0.15},{"h":16,"y":36,"m":0.16},{"h":16,"y":37,"m":0.2},{"h":16,"y":38,"m":0.26},{"h":16,"y":39,"m":0.3},{"h":16,"y":40,"m":0.33},{"h":16,"y":41,"m":0.38},{"h":16,"y":42,"m":0.43},{"h":16,"y":43,"m":0.48},{"h":16,"y":44,"m":0.5},{"h":16,"y":45,"m":0.55},{"h":16,"y":46,"m":0.7},{"h":16,"y":47,"m":0.9},{"h":16,"y":48,"m":1},{"h":16,"y":49,"m":1},{"h":16,"y":50,"m":0.88},{"h":16,"y":51,"m":0.6},{"h":16,"y":52,"m":0.42},{"h":16,"y":53,"m":0.3},{"h":16,"y":54,"m":0.2},{"h":16,"y":55,"m":0.12},{"h":16,"y":56,"m":0.1},{"h":16,"y":57,"m":0.07},{"h":16,"y":58,"m":0.04},{"h":16,"y":59,"m":0.02},{"h":16,"y":60,"m":0.01},
{"h":17,"y":35,"m":0.1},{"h":17,"y":35.5,"m":0.15},{"h":17,"y":36,"m":0.22},{"h":17,"y":36.5,"m":0.32},{"h":17,"y":37,"m":0.45},{"h":17,"y":37.5,"m":0.6},{"h":17,"y":38,"m":0.75},{"h":17,"y":38.5,"m":0.88},{"h":17,"y":39,"m":0.97},{"h":17,"y":39.5,"m":1},{"h":17,"y":40,"m":0.92},{"h":17,"y":40.5,"m":0.7},{"h":17,"y":41,"m":0.48},{"h":17,"y":41.5,"m":0.3},{"h":17,"y":42,"m":0.18},{"h":17,"y":42.5,"m":0.12},{"h":17,"y":43,"m":0.1},{"h":17,"y":43.5,"m":0.08},{"h":17,"y":44,"m":0.06},{"h":17,"y":44.5,"m":0.04},{"h":17,"y":45,"m":0.025},{"h":17,"y":45.5,"m":0.015},{"h":17,"y":46,"m":0.005},
{"h":18,"y":35,"m":0.4},{"h":18,"y":35.5,"m":0.48},{"h":18,"y":36,"m":0.55},{"h":18,"y":36.5,"m":0.62},{"h":18,"y":37,"m":0.7},{"h":18,"y":37.5,"m":0.8},{"h":18,"y":38,"m":0.9},{"h":18,"y":38.5,"m":0.98},{"h":18,"y":39,"m":1},{"h":18,"y":39.5,"m":0.92},{"h":18,"y":40,"m":0.8},{"h":18,"y":40.5,"m":0.65},{"h":18,"y":41,"m":0.52},{"h":18,"y":41.5,"m":0.4},{"h":18,"y":42,"m":0.28},{"h":18,"y":42.5,"m":0.18},{"h":18,"y":43,"m":0.12},{"h":18,"y":43.5,"m":0.09},{"h":18,"y":44,"m":0.07},{"h":18,"y":44.5,"m":0.05},{"h":18,"y":45,"m":0.03},{"h":18,"y":45.5,"m":0.015},{"h":18,"y":46,"m":0.005},
{"h":19,"y":35,"m":0.1},{"h":19,"y":35.5,"m":0.14},{"h":19,"y":36,"m":0.2},{"h":19,"y":36.5,"m":0.3},{"h":19,"y":37,"m":0.42},{"h":19,"y":37.5,"m":0.55},{"h":19,"y":38,"m":0.7},{"h":19,"y":38.5,"m":0.85},{"h":19,"y":39,"m":0.97},{"h":19,"y":39.5,"m":1},{"h":19,"y":40,"m":0.85},{"h":19,"y":40.5,"m":0.6},{"h":19,"y":41,"m":0.38},{"h":19,"y":41.5,"m":0.22},{"h":19,"y":42,"m":0.14},{"h":19,"y":42.5,"m":0.11},{"h":19,"y":43,"m":0.1},{"h":19,"y":43.5,"m":0.09},{"h":19,"y":44,"m":0.08},{"h":19,"y":44.5,"m":0.06},{"h":19,"y":45,"m":0.04},{"h":19,"y":45.5,"m":0.025},{"h":19,"y":46,"m":0.015},{"h":19,"y":46.5,"m":0.005},
{"h":20,"y":35,"m":0.48},{"h":20,"y":35.5,"m":0.52},{"h":20,"y":36,"m":0.56},{"h":20,"y":36.5,"m":0.62},{"h":20,"y":37,"m":0.7},{"h":20,"y":37.5,"m":0.8},{"h":20,"y":38,"m":0.92},{"h":20,"y":38.5,"m":1},{"h":20,"y":39,"m":0.95},{"h":20,"y":39.5,"m":0.85},{"h":20,"y":40,"m":0.76},{"h":20,"y":40.5,"m":0.7},{"h":20,"y":41,"m":0.5},{"h":20,"y":41.5,"m":0.32},{"h":20,"y":42,"m":0.22},{"h":20,"y":42.5,"m":0.15},{"h":20,"y":43,"m":0.11},{"h":20,"y":43.5,"m":0.1},{"h":20,"y":44,"m":0.09},{"h":20,"y":44.5,"m":0.07},{"h":20,"y":45,"m":0.05},{"h":20,"y":45.5,"m":0.03},{"h":20,"y":46,"m":0.015},{"h":20,"y":46.5,"m":0.005},
{"h":21,"y":35,"m":0.2},{"h":21,"y":35.5,"m":0.22},{"h":21,"y":36,"m":0.24},{"h":21,"y":36.5,"m":0.27},{"h":21,"y":37,"m":0.3},{"h":21,"y":37.5,"m":0.38},{"h":21,"y":38,"m":0.6},{"h":21,"y":38.5,"m":0.88},{"h":21,"y":39,"m":1},{"h":21,"y":39.5,"m":0.85},{"h":21,"y":40,"m":0.5},{"h":21,"y":40.5,"m":0.3},{"h":21,"y":41,"m":0.18},{"h":21,"y":41.5,"m":0.12},{"h":21,"y":42,"m":0.1},{"h":21,"y":42.5,"m":0.09},{"h":21,"y":43,"m":0.09},{"h":21,"y":43.5,"m":0.08},{"h":21,"y":44,"m":0.06},{"h":21,"y":44.5,"m":0.03},{"h":21,"y":45,"m":0.01},
{"h":22,"y":35,"m":0.28},{"h":22,"y":35.5,"m":0.3},{"h":22,"y":36,"m":0.33},{"h":22,"y":36.5,"m":0.4},{"h":22,"y":37,"m":0.5},{"h":22,"y":37.5,"m":0.65},{"h":22,"y":38,"m":0.82},{"h":22,"y":38.5,"m":0.97},{"h":22,"y":39,"m":1},{"h":22,"y":39.5,"m":0.85},{"h":22,"y":40,"m":0.65},{"h":22,"y":40.5,"m":0.48},{"h":22,"y":41,"m":0.3},{"h":22,"y":41.5,"m":0.18},{"h":22,"y":42,"m":0.12},{"h":22,"y":42.5,"m":0.1},{"h":22,"y":43,"m":0.09},{"h":22,"y":43.5,"m":0.08},{"h":22,"y":44,"m":0.07},{"h":22,"y":44.5,"m":0.05},{"h":22,"y":45,"m":0.03},{"h":22,"y":45.5,"m":0.015},{"h":22,"y":46,"m":0.005},
{"h":23,"y":35,"m":0.15},{"h":23,"y":35.5,"m":0.2},{"h":23,"y":36,"m":0.26},{"h":23,"y":36.5,"m":0.33},{"h":23,"y":37,"m":0.42},{"h":23,"y":37.5,"m":0.55},{"h":23,"y":38,"m":0.72},{"h":23,"y":38.5,"m":0.9},{"h":23,"y":39,"m":1},{"h":23,"y":39.5,"m":0.88},{"h":23,"y":40,"m":0.65},{"h":23,"y":40.5,"m":0.45},{"h":23,"y":41,"m":0.3},{"h":23,"y":41.5,"m":0.18},{"h":23,"y":42,"m":0.12},{"h":23,"y":42.5,"m":0.1},{"h":23,"y":43,"m":0.08},{"h":23,"y":43.5,"m":0.04},{"h":23,"y":44,"m":0.01}
]},
"encoding": {
 "x": {"field": "h", "type": "quantitative", "scale": {"domain": [-1.15, 24.3], "nice": false, "zero": false}, "axis": {"values": [0, 5, 10, 15, 20], "format": "d"}},
 "y": {"field": "y", "type": "quantitative", "scale": {"domain": [30.8, 125.1], "nice": false, "zero": false}, "axis": {"values": [40, 60, 80, 100, 120], "format": "d"}}
},
"layer": [
 {
  "mark": {"type": "tick", "orient": "horizontal", "thickness": 5},
  "encoding": {
   "color": {"field": "m", "type": "quantitative", "scale": {"scheme": "redyellowblue", "domain": [0, 1]}, "legend": null},
   "size": {"field": "m", "type": "quantitative", "scale": {"domain": [0, 1], "range": [2.2, 6.5]}, "legend": null},
   "opacity": {"field": "m", "type": "quantitative", "scale": {"domain": [0, 0.08], "range": [0.1, 1], "clamp": true}, "legend": null}
  }
 },
 {
  "mark": {"type": "square", "size": 0, "strokeWidth": 0, "opacity": 1, "filled": true},
  "encoding": {
   "color": {"field": "m", "type": "quantitative", "scale": {"scheme": "redyellowblue", "domain": [0, 1]}, "legend": {"type": "gradient", "title": null, "direction": "vertical", "gradientLength": 390, "gradientThickness": 18, "offset": 39, "values": [0, 0.2, 0.4, 0.6, 0.8, 1], "format": ".1f", "gradientStrokeColor": "black", "gradientStrokeWidth": 1, "gradientOpacity": 1, "labelOffset": 8, "padding": 0}}
  }
 }
],
"resolve": {"scale": {"color": "independent"}, "legend": {"color": "independent"}}
}
